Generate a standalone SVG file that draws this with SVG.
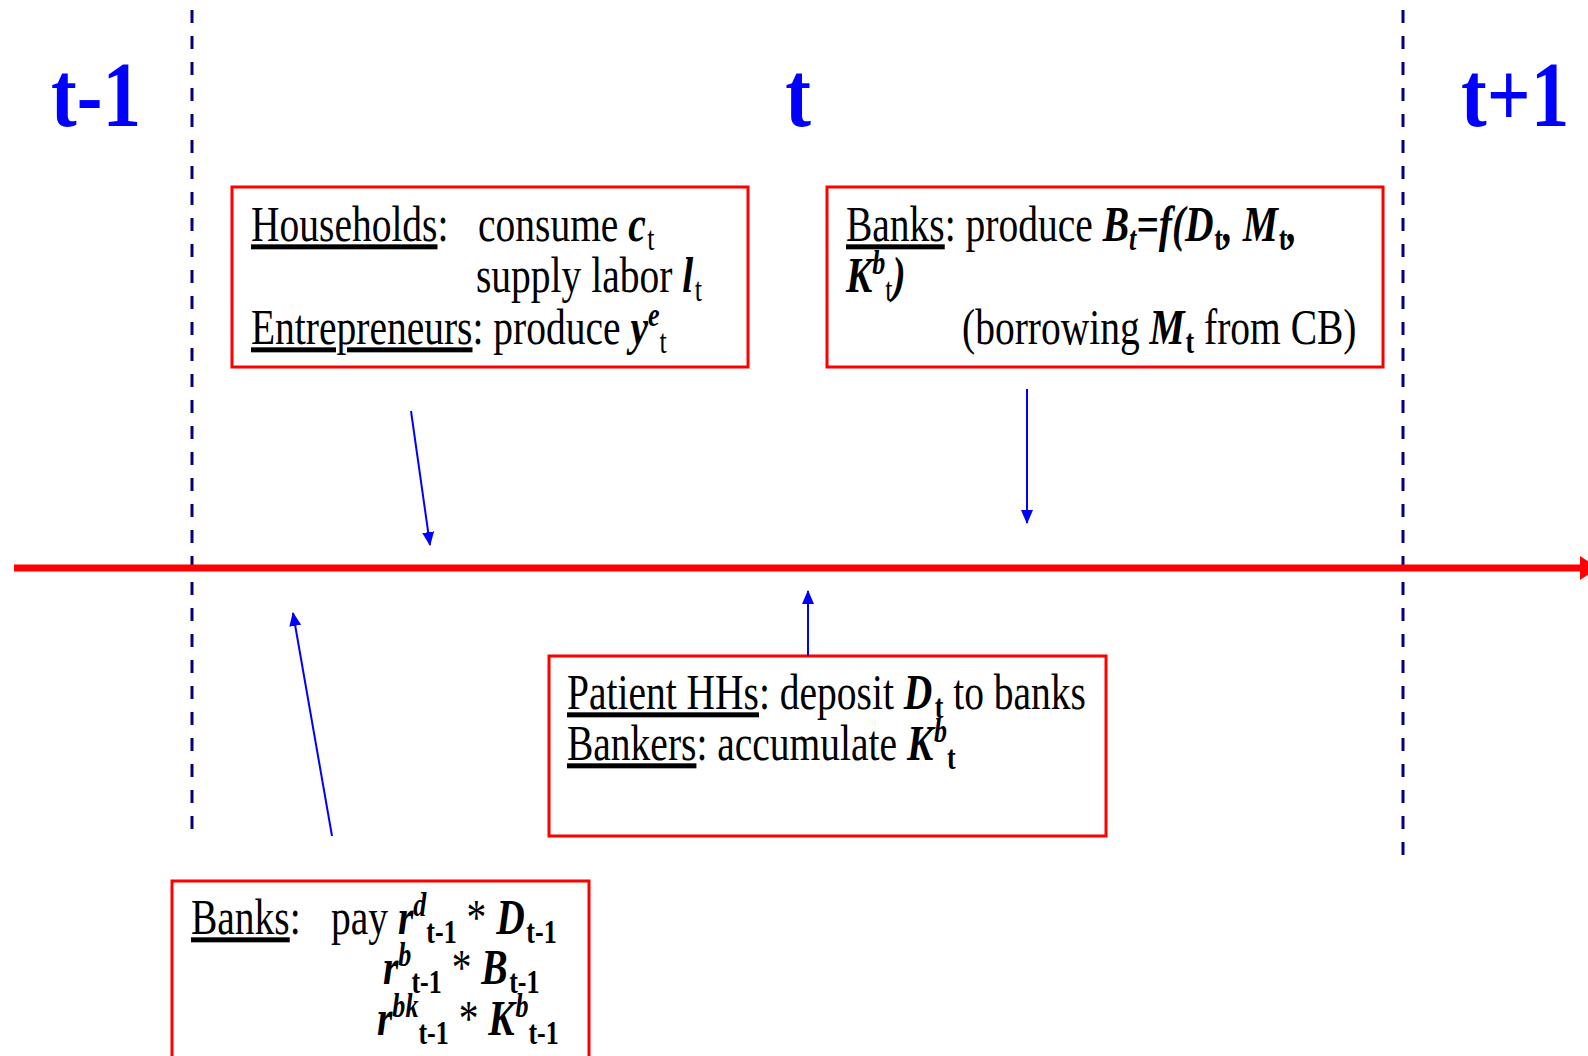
<svg xmlns="http://www.w3.org/2000/svg" width="1588" height="1056" viewBox="0 0 1588 1056">
<style>
.tx{font-family:"Liberation Serif","Times New Roman",serif;font-size:50px;fill:#000}
.ttl{font-family:"Liberation Serif","Times New Roman",serif;font-size:93px;font-weight:bold;fill:#0000FF}
.bi{font-weight:bold;font-style:italic}
.b{font-weight:bold}
.i{font-style:italic}
.u{text-decoration:underline}
.s{font-size:33px}
.box{fill:#fff;stroke:#FF0000;stroke-width:3}
.dash{stroke:#000080;stroke-width:3;stroke-dasharray:13 13;fill:none}
.arr{stroke:#0000FF;stroke-width:2;fill:none;marker-end:url(#ah)}
</style>
<defs>
<marker id="ah" markerUnits="userSpaceOnUse" markerWidth="14" markerHeight="12" refX="13" refY="6" orient="auto">
<path d="M0,0 L14,6 L0,12 z" fill="#0000FF"/>
</marker>
</defs>
<rect width="1588" height="1056" fill="#fff"/>
<g id="timeline">
<line class="dash" x1="192" y1="10" x2="192" y2="832"/>
<line class="dash" x1="1403" y1="10" x2="1403" y2="857"/>
<line x1="14" y1="568" x2="1582" y2="568" stroke="#FF0000" stroke-width="7"/>
<polygon points="1580,556 1598,568 1580,580" fill="#FF0000"/>
</g>
<g id="titles">
<text class="ttl" transform="translate(51,126) scale(0.83,1)">t-1</text>
<text class="ttl" text-anchor="middle" transform="translate(798,126) scale(0.83,1)">t</text>
<text class="ttl" transform="translate(1461,126) scale(0.83,1)">t+1</text>
</g>
<g id="households">
<rect class="box" x="232" y="187" width="516" height="180"/>
<text class="tx" transform="translate(251,241) scale(0.79,1)"><tspan class="u">Households</tspan>:</text>
<text class="tx" transform="translate(478,241) scale(0.79,1)">consume <tspan class="bi">c</tspan><tspan class="s" dx="2" dy="9">t</tspan></text>
<text class="tx" transform="translate(476,292) scale(0.79,1)">supply labor <tspan class="bi">l</tspan><tspan class="s" dx="2" dy="9">t</tspan></text>
<text class="tx" transform="translate(251,344) scale(0.79,1)"><tspan class="u">Entrepreneurs</tspan>: produce <tspan class="bi">y</tspan><tspan class="s bi" dy="-18">e</tspan><tspan class="s" dy="27">t</tspan></text>
</g>
<g id="banks-produce">
<rect class="box" x="827" y="187" width="556" height="180"/>
<text class="tx" transform="translate(846,241) scale(0.79,1)"><tspan class="u">Banks</tspan>: produce <tspan class="bi">B</tspan><tspan class="s bi" dy="9">t</tspan><tspan class="bi" dy="-9">=f(D</tspan><tspan class="s b" dx="1" dy="9">t</tspan><tspan class="bi" dy="-9">, M</tspan><tspan class="s b" dx="1" dy="9">t</tspan><tspan class="bi" dy="-9">,</tspan></text>
<text class="tx" transform="translate(846,292) scale(0.79,1)"><tspan class="bi">K</tspan><tspan class="s bi" dy="-18">b</tspan><tspan class="s" dy="27">t</tspan><tspan class="bi" dy="-9">)</tspan></text>
<text class="tx" transform="translate(962,344) scale(0.79,1)">(borrowing <tspan class="bi">M</tspan><tspan class="s b" dx="1" dy="9">t</tspan><tspan dy="-9"> from CB)</tspan></text>
</g>
<g id="patient-hhs">
<rect class="box" x="549" y="656" width="557" height="180"/>
<text class="tx" transform="translate(567,709) scale(0.79,1)"><tspan class="u">Patient HHs</tspan>: deposit <tspan class="bi">D</tspan><tspan class="s b" dx="3" dy="9">t</tspan><tspan dy="-9"> to banks</tspan></text>
<text class="tx" transform="translate(567,760) scale(0.79,1)"><tspan class="u">Bankers</tspan>: accumulate <tspan class="bi">K</tspan><tspan class="s bi" dx="1" dy="-18">b</tspan><tspan class="s b" dy="27">t</tspan></text>
</g>
<g id="banks-pay">
<rect class="box" x="172" y="881" width="417" height="200"/>
<text class="tx" transform="translate(191,934) scale(0.79,1)"><tspan class="u">Banks</tspan>:</text>
<text class="tx" transform="translate(331,934) scale(0.79,1)">pay <tspan class="bi">r</tspan><tspan class="s bi" dy="-18">d</tspan><tspan class="s b" dy="27">t-1</tspan><tspan dy="-9"> * </tspan><tspan class="bi">D</tspan><tspan class="s b" dx="2" dy="9">t-1</tspan></text>
<text class="tx" transform="translate(383,984) scale(0.79,1)"><tspan class="bi">r</tspan><tspan class="s bi" dy="-18">b</tspan><tspan class="s b" dy="27">t-1</tspan><tspan dy="-9"> * </tspan><tspan class="bi">B</tspan><tspan class="s b" dx="2" dy="9">t-1</tspan></text>
<text class="tx" transform="translate(377,1035) scale(0.79,1)"><tspan class="bi">r</tspan><tspan class="s bi" dy="-18">bk</tspan><tspan class="s b" dy="27">t-1</tspan><tspan dy="-9"> * </tspan><tspan class="bi">K</tspan><tspan class="s bi" dx="1" dy="-18">b</tspan><tspan class="s b" dy="27">t-1</tspan></text>
</g>
<g id="connectors">
<line class="arr" x1="411" y1="411" x2="430" y2="545"/>
<line class="arr" x1="1027" y1="389" x2="1027" y2="523"/>
<line class="arr" x1="808" y1="656" x2="808" y2="591"/>
<line class="arr" x1="332" y1="836" x2="293" y2="613"/>
</g>
</svg>
